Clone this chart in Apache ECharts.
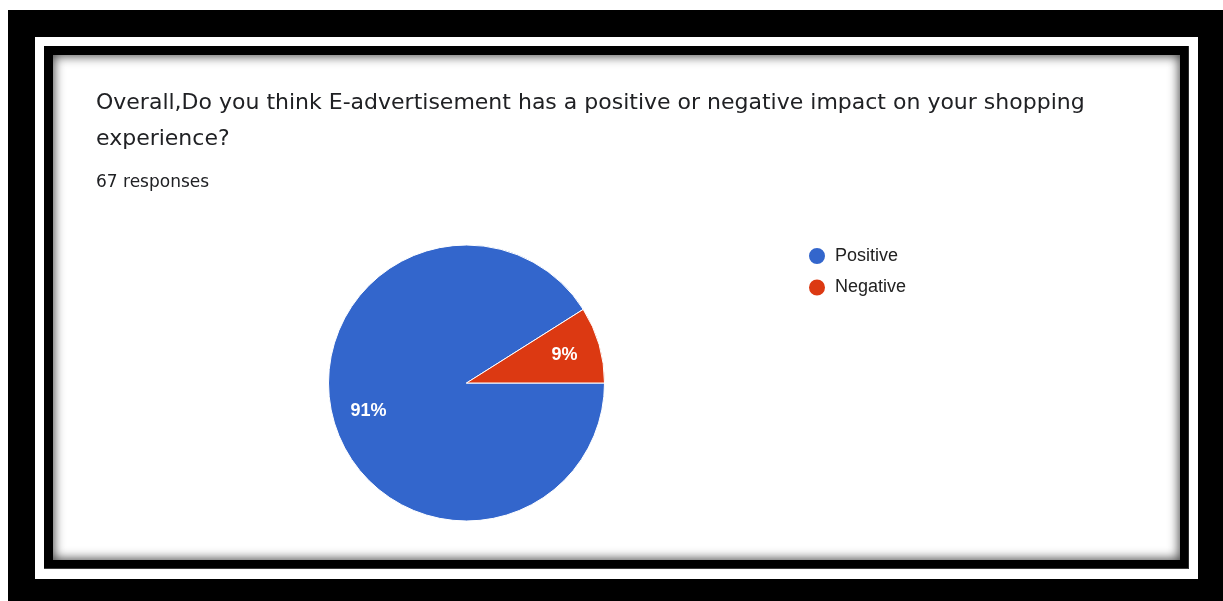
<!DOCTYPE html>
<html>
<head>
<meta charset="utf-8">
<title>E-advertisement impact</title>
<script src="https://cdn.jsdelivr.net/npm/echarts@6/dist/echarts.min.js"></script>
<style>
  html, body { margin: 0; padding: 0; background: #fff; width: 1223px; height: 601px; overflow: hidden; }
  .frame { position: absolute; box-sizing: border-box; }
  #outer { left: 8px; top: 10px; width: 1215px; height: 591px; background: #000; }
  #band  { left: 35px; top: 37px; width: 1163px; height: 542px; background: #fff; }
  #inner { left: 44px; top: 46px; width: 1145px; height: 523px; background: #000; border-bottom: 1px solid #3c3c3c; border-right: 1px solid #2a2a2a; }
  #card  { left: 53px; top: 55px; width: 1127px; height: 505px; background: #fff;
           box-shadow: inset 0 0 11px 1px rgba(0,0,0,0.75); }
  #chart { position: absolute; left: 0; top: 0; width: 1223px; height: 601px; z-index: 5; }
</style>
</head>
<body>
<div class="frame" id="outer"></div>
<div class="frame" id="band"></div>
<div class="frame" id="inner"></div>
<div class="frame" id="card"></div>
<div id="chart"></div>
<script>
// Survey answers (67 responses)
const questionTitle = 'Overall,Do you think E-advertisement has a positive or negative impact on your shopping\nexperience?';
const responseCount = 67;
const answerNames = ['Positive', 'Negative'];
const answerCounts = [61, 6];
const answerColors = ['#3366cc', '#dc3912'];

const pieData = answerNames.map((name, i) => ({
  name: name,
  value: answerCounts[i],
  itemStyle: { color: answerColors[i] }
}));

const center = [466.5, 383];
const outerR = 138;

const chart = echarts.init(document.getElementById('chart'), null, { renderer: 'canvas' });
chart.setOption({
  backgroundColor: 'transparent',
  animation: false,
  title: [
    {
      text: questionTitle,
      left: 96,
      top: 85,
      padding: 0,
      textStyle: {
        fontFamily: 'DejaVu Sans',
        fontSize: 22,
        fontWeight: 'normal',
        color: '#202124',
        lineHeight: 36
      }
    },
    {
      text: responseCount + ' responses',
      left: 96,
      top: 173,
      padding: 0,
      textStyle: {
        fontFamily: 'DejaVu Sans',
        fontSize: 17,
        fontWeight: 'normal',
        color: '#202124',
        lineHeight: 20
      }
    }
  ],
  legend: {
    orient: 'vertical',
    left: 807,
    top: 246,
    padding: 0,
    itemWidth: 18,
    itemHeight: 18,
    itemGap: 11.5,
    icon: 'circle',
    selectedMode: false,
    data: answerNames,
    textStyle: {
      fontFamily: 'Liberation Sans, Arial, sans-serif',
      fontSize: 18,
      lineHeight: 18,
      color: '#222222',
      padding: [0, 0, 0, 4]
    }
  },
  series: [
    {
      // filled slices
      type: 'pie',
      center: center,
      radius: [0, outerR],
      startAngle: 0,
      clockwise: true,
      silent: true,
      label: { show: false },
      labelLine: { show: false },
      itemStyle: { borderColor: '#ffffff', borderWidth: 1 },
      data: pieData
    },
    {
      // percentage labels, placed at about 70% of the radius
      type: 'pie',
      center: center,
      radius: [60, outerR],
      startAngle: 0,
      clockwise: true,
      silent: true,
      labelLine: { show: false },
      label: {
        show: true,
        position: 'inside',
        formatter: p => Math.round(p.percent) + '%',
        fontFamily: 'Liberation Sans, Arial, sans-serif',
        fontSize: 18,
        fontWeight: 'bold',
        color: '#ffffff'
      },
      data: answerNames.map((name, i) => ({
        name: name,
        value: answerCounts[i],
        itemStyle: { color: 'rgba(0,0,0,0)' }
      }))
    }
  ]
});
</script>
</body>
</html>
